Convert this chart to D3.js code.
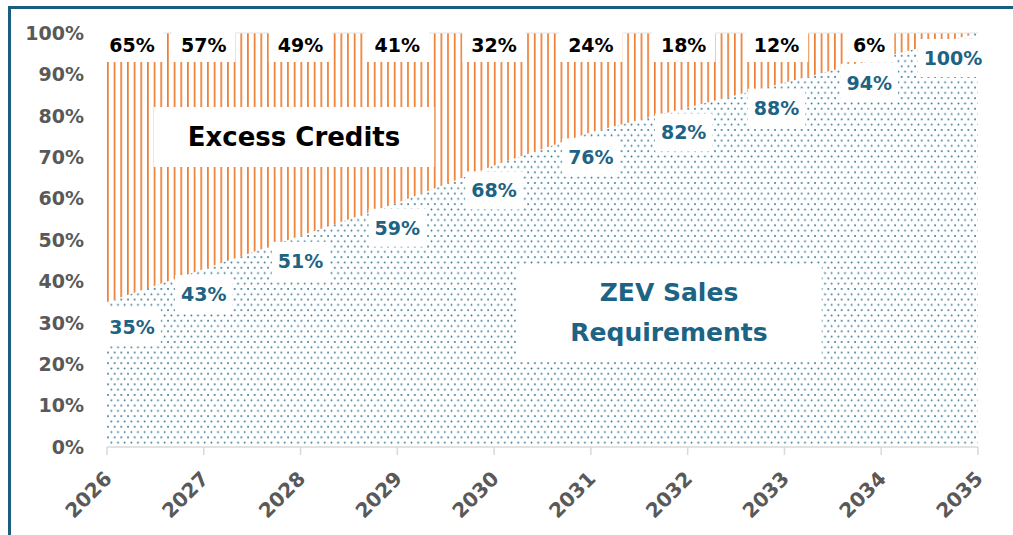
<!DOCTYPE html>
<html>
<head>
<meta charset="utf-8">
<script src="https://cdn.jsdelivr.net/npm/d3@7"></script>
<style>
  body { margin: 0; background: #fff; }
  text { font-family: "DejaVu Sans", sans-serif; font-weight: bold; }
</style>
</head>
<body>
<svg id="chart"></svg>
<script>
const width = 1013;
const height = 535;

// Data
const years = [2026, 2027, 2028, 2029, 2030, 2031, 2032, 2033, 2034, 2035];
const zevShare = [35, 43, 51, 59, 68, 76, 82, 88, 94, 100];
const excessShare = [65, 57, 49, 41, 32, 24, 18, 12, 6, 0];
const yTicks = [0, 10, 20, 30, 40, 50, 60, 70, 80, 90, 100];

const svg = d3.select("#chart")
  .attr("width", width)
  .attr("height", height);

const x = d3.scaleLinear().domain([2026, 2035]).range([107, 978]);
const y = d3.scaleLinear().domain([0, 100]).range([447, 33]);

// Patterns
const defs = svg.append("defs");
const stripes = defs.append("pattern")
  .attr("id", "stripes")
  .attr("patternUnits", "userSpaceOnUse")
  .attr("x", x(2026))
  .attr("width", 6.67)
  .attr("height", 10);
stripes.append("rect")
  .attr("x", 0).attr("y", 0)
  .attr("width", 1.7).attr("height", 10)
  .attr("fill", "#ed7d31");

const dots = defs.append("pattern")
  .attr("id", "dots")
  .attr("patternUnits", "userSpaceOnUse")
  .attr("x", x(2026))
  .attr("y", y(0))
  .attr("width", 6.67)
  .attr("height", 10.6);
dots.append("circle").attr("cx", 1).attr("cy", 1).attr("r", 0.9).attr("fill", "#2a6f90");
dots.append("circle").attr("cx", 4.33).attr("cy", 6.3).attr("r", 0.9).attr("fill", "#2a6f90");

// Stacked areas
const rows = years.map((yr, i) => ({ year: yr, zev: zevShare[i], excess: excessShare[i] }));
const stack = d3.stack().keys(["zev", "excess"]);
const series = stack(rows);

const area = d3.area()
  .x(d => x(d.data.year))
  .y0(d => y(d[0]))
  .y1(d => y(d[1]));

svg.append("g")
  .selectAll("path")
  .data(series)
  .enter().append("path")
  .attr("d", area)
  .attr("fill", d => d.key === "zev" ? "url(#dots)" : "url(#stripes)");

// thin light line along the top
svg.append("line")
  .attr("x1", x(2026)).attr("x2", x(2035))
  .attr("y1", y(100)).attr("y2", y(100))
  .attr("stroke", "#e3e3e3")
  .attr("stroke-width", 1);

// Y axis labels
svg.append("g")
  .selectAll("text")
  .data(yTicks)
  .enter().append("text")
  .attr("x", 84)
  .attr("y", d => y(d))
  .attr("dy", "0.36em")
  .attr("text-anchor", "end")
  .attr("font-size", 19)
  .attr("fill", "#595959")
  .text(d => d + "%");

// X axis
const xAxis = svg.append("g");
xAxis.append("line")
  .attr("x1", x(2026)).attr("x2", x(2035))
  .attr("y1", y(0)).attr("y2", y(0))
  .attr("stroke", "#d9d9d9")
  .attr("stroke-width", 1.5);
xAxis.selectAll(".tick")
  .data(years)
  .enter().append("line")
  .attr("x1", d => x(d)).attr("x2", d => x(d))
  .attr("y1", y(0)).attr("y2", y(0) + 8)
  .attr("stroke", "#d9d9d9")
  .attr("stroke-width", 1.5);
xAxis.selectAll("text")
  .data(years)
  .enter().append("text")
  .attr("transform", d => `translate(${x(d) + 6},${y(0) + 33}) rotate(-45)`)
  .attr("text-anchor", "end")
  .attr("font-size", 20)
  .attr("fill", "#595959")
  .text(d => d);

// Label helper: text with a white box behind
function boxedLabel(g, cx, cy, lines, size, color, padX, padY, lineGap) {
  const grp = g.append("g");
  const rect = grp.append("rect").attr("fill", "#fff");
  const txt = grp.append("text")
    .attr("text-anchor", "middle")
    .attr("font-size", size)
    .attr("fill", color);
  const n = lines.length;
  lines.forEach((line, i) => {
    txt.append("tspan")
      .attr("x", cx)
      .attr("y", cy + (i - (n - 1) / 2) * lineGap)
      .attr("dy", "0.36em")
      .text(line);
  });
  const bb = txt.node().getBBox();
  rect.attr("x", bb.x - padX)
    .attr("y", cy - (n * lineGap) / 2 - padY)
    .attr("width", bb.width + padX * 2)
    .attr("height", n * lineGap + padY * 2);
}

const labels = svg.append("g");
const labelX = yr => Math.max(x(2026) + 25, Math.min(x(2035) - 25, x(yr) - (yr >= 2032 ? (yr - 2031) * 4 : 0)));

// Excess credit labels along the top
rows.forEach(d => {
  if (d.excess > 0) {
    boxedLabel(labels, labelX(d.year), y(100) + 12, [d.excess + "%"], 19, "#000", 9, 6, 22);
  }
});

// ZEV requirement labels below the line
rows.forEach(d => {
  boxedLabel(labels, labelX(d.year), y(d.zev) + 25, [d.zev + "%"], 19, "#1d6383", 6, 8, 22);
});

// Series titles
boxedLabel(labels, 294, 137, ["Excess Credits"], 26, "#000", 34, 16, 28);
boxedLabel(labels, 669, 312, ["ZEV Sales", "Requirements"], 25, "#1d6383", 54, 8, 40);

// Frame
svg.append("rect")
  .attr("x", 9.5).attr("y", 7.5)
  .attr("width", width + 10).attr("height", height + 10)
  .attr("fill", "none")
  .attr("stroke", "#1b5e80")
  .attr("stroke-width", 3);
</script>
</body>
</html>
